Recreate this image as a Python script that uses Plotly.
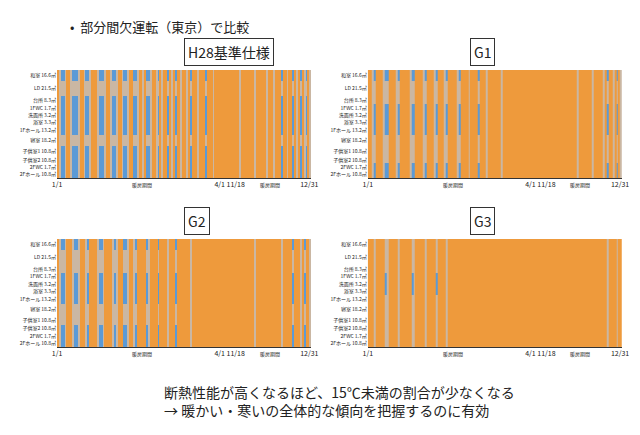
import plotly.graph_objects as go
from plotly.subplots import make_subplots

rooms = ["和室 16.6㎡", "LD 21.5㎡", "台所 8.3㎡", "1FWC 1.7㎡", "洗面所 3.2㎡", "浴室 3.3㎡",
         "1Fホール 13.2㎡", "寝室 18.2㎡", "子供室1 10.8㎡", "子供室2 10.8㎡", "2FWC 1.7㎡", "2Fホール 10.8㎡"]
row_h = [1.4, 1.8, 1.0, 0.9, 0.9, 0.9, 1.1, 1.4, 1.2, 0.9, 0.9, 0.9]
n_days = 134  # 1/1-4/1 (90 days) + 11/18-12/31 (44 days)
tick_pos = [0, 91, 133]
tick_txt = ["1/1", "4/1 11/18", "12/31"]

titles = ["H28基準仕様", "G1", "G2", "G3"]
# strongly cold days (blue stripes) per panel
cold_days = [
    [2, 3, 8, 9, 10, 15, 16, 22, 23, 24, 29, 30, 35, 36, 40, 41, 47, 48, 53, 58, 62, 70, 78, 118, 124, 128, 131],
    [3, 9, 10, 16, 23, 24, 30, 36, 41, 48, 58, 126, 131],
    [2, 3, 9, 10, 16, 22, 23, 30, 35, 36, 41, 47, 53, 62, 124, 130],
    [9, 23, 36],
]
# mildly cool days (grey stripes)
cool_days = [
    [1, 4, 7, 11, 14, 17, 21, 25, 28, 31, 34, 37, 42, 45, 49, 52, 55, 60, 65, 68, 74, 82, 96, 104, 110, 114, 121, 126, 130, 133],
    [2, 8, 15, 22, 29, 35, 40, 47, 53, 62, 70, 110, 118, 124, 129, 133],
    [1, 4, 8, 11, 15, 21, 24, 29, 31, 37, 40, 48, 58, 70, 104, 118, 128, 133],
    [3, 10, 16, 24, 30, 41, 126, 131],
]
# rooms that turn blue on cold days
cold_rooms = [
    [0, 2, 3, 4, 5, 6, 8, 9, 10, 11],
    [0, 3, 4, 5, 6, 10, 11],
    [0, 3, 4, 5, 6, 9, 10, 11],
    [3, 4, 5],
]

y_edges = [0]
for h in row_h:
    y_edges.append(y_edges[-1] + h)
y_mid = [(y_edges[i] + y_edges[i + 1]) / 2 for i in range(len(rooms))]

fig = make_subplots(rows=2, cols=2, horizontal_spacing=0.1, vertical_spacing=0.22)
scale = [[0, "#ee9a3c"], [0.33, "#ee9a3c"], [0.33, "#d9ab7c"], [0.66, "#bcc3c8"],
         [0.66, "#5b9ad6"], [1, "#5b9ad6"]]
for k in range(4):
    z = []
    for r in range(len(rooms)):
        row = []
        for d in range(n_days):
            if d in cold_days[k]:
                row.append(2 if r in cold_rooms[k] else 1)
            elif d in cool_days[k]:
                row.append(1)
            else:
                row.append(0)
        z.append(row)
    fig.add_trace(go.Heatmap(z=z, x=list(range(n_days + 1)), y=y_edges, colorscale=scale,
                             zmin=0, zmax=2, showscale=False), row=k // 2 + 1, col=k % 2 + 1)
    ax = "" if k == 0 else str(k + 1)
    fig.update_xaxes(tickvals=tick_pos, ticktext=tick_txt, range=[0, n_days], showline=True,
                     linecolor="#333", ticks="", tickangle=0, tickfont_size=7,
                     row=k // 2 + 1, col=k % 2 + 1)
    fig.update_yaxes(tickvals=y_mid, ticktext=rooms, range=[y_edges[-1], 0], tickfont_size=5,
                     row=k // 2 + 1, col=k % 2 + 1)
    dom = fig.layout["xaxis" + ax].domain
    ydom = fig.layout["yaxis" + ax].domain
    fig.add_annotation(x=(dom[0] + dom[1]) / 2, y=ydom[1] + 0.015, xref="paper", yref="paper",
                       text=titles[k], showarrow=False, yanchor="bottom", font_size=14,
                       bordercolor="#333", borderwidth=1, borderpad=3, bgcolor="white")
    for xm, lab in [(45, "暖房期間"), (112, "暖房期間")]:
        fig.add_annotation(x=xm, y=y_edges[-1], xref="x" + ax, yref="y" + ax, text=lab,
                           showarrow=False, yanchor="top", yshift=-1, font_size=5)

fig.add_annotation(x=0.02, y=1.2, xref="paper", yref="paper", text="•  部分間欠運転（東京）で比較",
                   showarrow=False, xanchor="left", font_size=13)
fig.add_annotation(x=0.5, y=-0.12, xref="paper", yref="paper",
                   text="断熱性能が高くなるほど、15℃未満の割合が少なくなる<br>→ 暖かい・寒いの全体的な傾向を把握するのに有効",
                   showarrow=False, font_size=14, align="left", yanchor="top")
fig.update_layout(width=640, height=435, margin=dict(l=42, r=26, t=62, b=96),
                  paper_bgcolor="white", plot_bgcolor="white",
                  font=dict(family="Noto Sans CJK JP", color="#222", size=8))
fig.write_html("out.html")
